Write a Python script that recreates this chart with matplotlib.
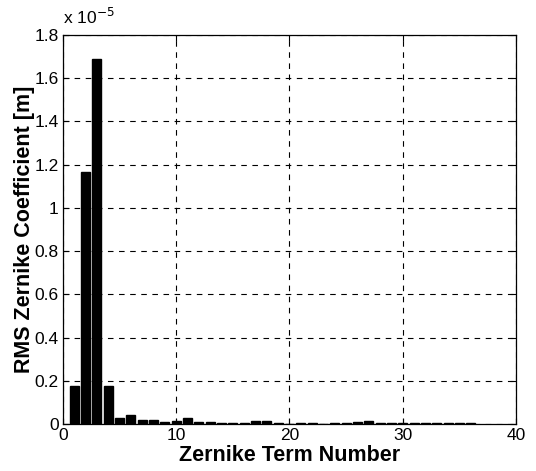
import numpy as np
import matplotlib.pyplot as plt
from matplotlib.ticker import FuncFormatter

plt.rcParams['font.family'] = ['Liberation Sans', 'DejaVu Sans']

# RMS Zernike coefficients, in units of 1e-5 m
terms = np.arange(1, 37)
coef = [0.177, 1.165, 1.69, 0.175, 0.027, 0.043, 0.017, 0.02, 0.007, 0.013,
        0.027, 0.008, 0.008, 0.004, 0.003, 0.004, 0.012, 0.012, 0.004, 0.002,
        0.003, 0.004, 0.002, 0.003, 0.004, 0.008, 0.012, 0.003, 0.004, 0.003,
        0.004, 0.004, 0.005, 0.004, 0.005, 0.003]
scale = 1e-5
xticks = [0, 10, 20, 30, 40]
yticks = [0, 0.2, 0.4, 0.6, 0.8, 1.0, 1.2, 1.4, 1.6, 1.8]

fig = plt.figure(figsize=(5.36, 4.71), dpi=100)
ax = fig.add_axes([0.1175, 0.0998, 0.8452, 0.8259])

ax.bar(terms, np.array(coef) * scale, width=0.8, color='black',
       edgecolor='black', linewidth=1.0, zorder=3)

ax.set_xlim(0, 40)
ax.set_ylim(0, 1.8 * scale)
ax.set_xticks(xticks)
ax.set_yticks(np.array(yticks) * scale)
ax.yaxis.set_major_formatter(FuncFormatter(lambda v, p: f"{v / scale:g}"))
ax.tick_params(direction='in', labelsize=12.5, length=4, width=0.8,
               top=True, right=True, pad=3)
ax.grid(True, color='black', linestyle=(0, (5, 5)), linewidth=0.8)
ax.set_axisbelow(True)
for s in ax.spines.values():
    s.set_linewidth(0.9)

ax.set_xlabel('Zernike Term Number', fontsize=15.5, fontweight='bold', labelpad=1)
ax.set_ylabel('RMS Zernike Coefficient [m]', fontsize=15.5, fontweight='bold', labelpad=0)
ax.text(0.0, 1.02, r'x 10$^{-5}$', transform=ax.transAxes, fontsize=12.5,
        ha='left', va='bottom')

fig.savefig('out.png', dpi=100)
